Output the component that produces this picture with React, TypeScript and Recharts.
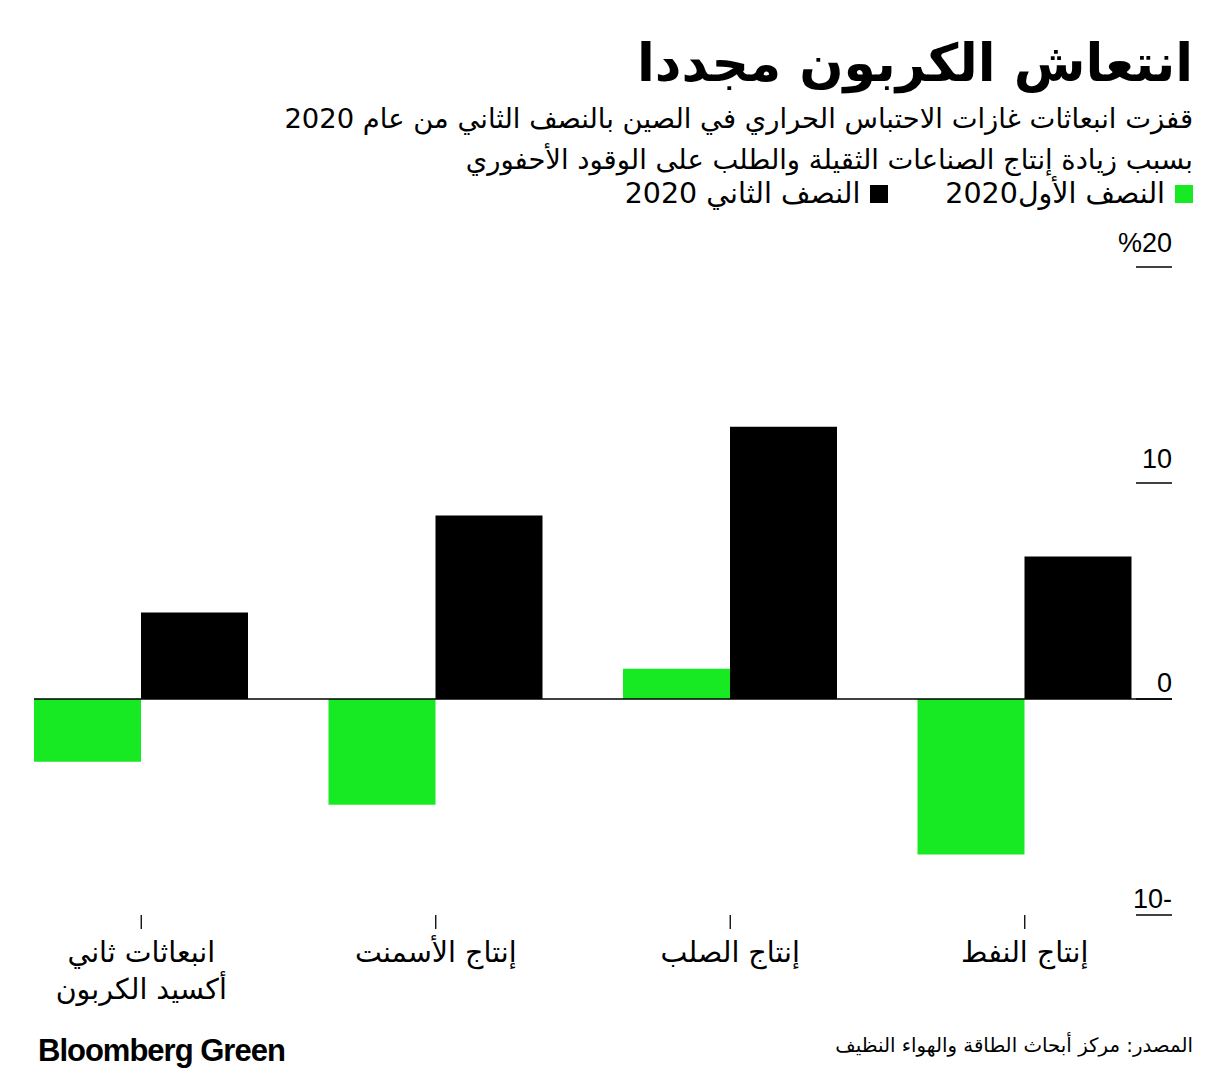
import React from 'react';
import { BarChart, Bar, XAxis, YAxis, ReferenceLine } from 'recharts';

const categories = ['انبعاثات ثاني|أكسيد الكربون', 'إنتاج الأسمنت', 'إنتاج الصلب', 'إنتاج النفط'];
const firstHalf = [-2.9, -4.9, 1.4, -7.2];
const secondHalf = [4.0, 8.5, 12.6, 6.6];
const yTicks = [-10, 0, 10, 20];

const seriesNames = ['النصف الأول2020', 'النصف الثاني 2020'];
const GREEN = '#17EA22';
const BLACK = '#000000';
const CAT_GAP = 40;

const data = categories.map((c, i) => ({ name: c, h1: firstHalf[i], h2: secondHalf[i] }));

const AR = '"DejaVu Sans", sans-serif';
const NUM = '"Liberation Sans", Arial, sans-serif';

const fmtY = (v: number) => (v === 20 ? '%20' : v < 0 ? `${-v}-` : `${v}`);

const YTick = (props: any) => {
  const { x, y, payload } = props;
  const off = payload.value > 0 ? 15 : 7;
  return (
    <g>
      <line x1={x - 36} x2={x} y1={y} y2={y} stroke="#000" strokeWidth={1.3} />
      <text x={x} y={y - off} textAnchor="end" fontFamily={NUM} fontSize={27} fill="#000">
        {fmtY(payload.value)}
      </text>
    </g>
  );
};

const XTick = (props: any) => {
  const { x, y, payload } = props;
  const lines = String(payload.value).split('|');
  return (
    <g>
      {lines.map((l, i) => (
        <text key={i} x={x} y={y + 31 + i * 37} textAnchor="middle" direction="rtl" fontFamily={AR} fontSize={28.5} fill="#000">
          {l}
        </text>
      ))}
    </g>
  );
};

const ZeroLine = (props: any) => {
  const { x1, x2, y1, y2 } = props;
  return <line x1={Math.min(x1, x2) + CAT_GAP} x2={Math.max(x1, x2)} y1={y1} y2={y2} stroke="#000" strokeWidth={1.3} />;
};

export default function App() {
  return (
    <div style={{ position: 'absolute', left: 0, top: 0, width: 1228, height: 1080, background: '#fff', overflow: 'hidden' }}>
      <div dir="rtl" style={{ position: 'absolute', right: 35, top: 28, fontFamily: AR, fontWeight: 700, fontSize: 52, lineHeight: '70px', color: '#000', whiteSpace: 'nowrap' }}>
        انتعاش الكربون مجددا
      </div>
      <div dir="rtl" style={{ position: 'absolute', right: 35, top: 98, fontFamily: AR, fontSize: 27.4, lineHeight: '41px', color: '#000', whiteSpace: 'nowrap', textAlign: 'right' }}>
        <div>قفزت انبعاثات غازات الاحتباس الحراري في الصين بالنصف الثاني من عام 2020</div>
        <div>بسبب زيادة إنتاج الصناعات الثقيلة والطلب على الوقود الأحفوري</div>
      </div>
      <div dir="rtl" style={{ position: 'absolute', right: 35, top: 176, display: 'flex', alignItems: 'center', fontFamily: AR, fontSize: 28.5, lineHeight: '36px', color: '#000', whiteSpace: 'nowrap' }}>
        <span style={{ display: 'inline-block', width: 18, height: 18, background: GREEN, marginLeft: 10 }} />
        <span style={{ marginLeft: 57 }}>{seriesNames[0]}</span>
        <span style={{ display: 'inline-block', width: 18, height: 18, background: BLACK, marginLeft: 10 }} />
        <span>{seriesNames[1]}</span>
      </div>

      <div style={{ position: 'absolute', left: -6, top: 0 }}>
        <BarChart
          width={1234}
          height={1080}
          data={data}
          margin={{ top: 267, right: 0, bottom: 0, left: 0 }}
          barCategoryGap={CAT_GAP}
          barGap={0}
        >
          <XAxis
            dataKey="name"
            axisLine={false}
            tickLine={{ stroke: '#000', strokeWidth: 1.3 }}
            tickSize={14}
            tick={<XTick />}
            interval={0}
            height={165}
          />
          <YAxis
            orientation="right"
            domain={[-10, 20]}
            ticks={yTicks}
            axisLine={false}
            tickLine={false}
            tickSize={0}
            tickMargin={0}
            width={56}
            tick={<YTick />}
            allowDataOverflow
          />
          <ReferenceLine y={0} shape={<ZeroLine />} />
          <Bar dataKey="h1" name={seriesNames[0]} fill={GREEN} isAnimationActive={false} />
          <Bar dataKey="h2" name={seriesNames[1]} fill={BLACK} isAnimationActive={false} />
        </BarChart>
      </div>

      <div style={{ position: 'absolute', left: 38, top: 1033, fontFamily: NUM, fontWeight: 700, fontSize: 31, letterSpacing: -1, color: '#000', whiteSpace: 'nowrap' }}>
        Bloomberg Green
      </div>
      <div dir="rtl" style={{ position: 'absolute', right: 35, top: 1031, fontFamily: AR, fontSize: 19.8, lineHeight: '30px', color: '#000', whiteSpace: 'nowrap' }}>
        المصدر:  مركز أبحاث الطاقة والهواء النظيف
      </div>
    </div>
  );
}
